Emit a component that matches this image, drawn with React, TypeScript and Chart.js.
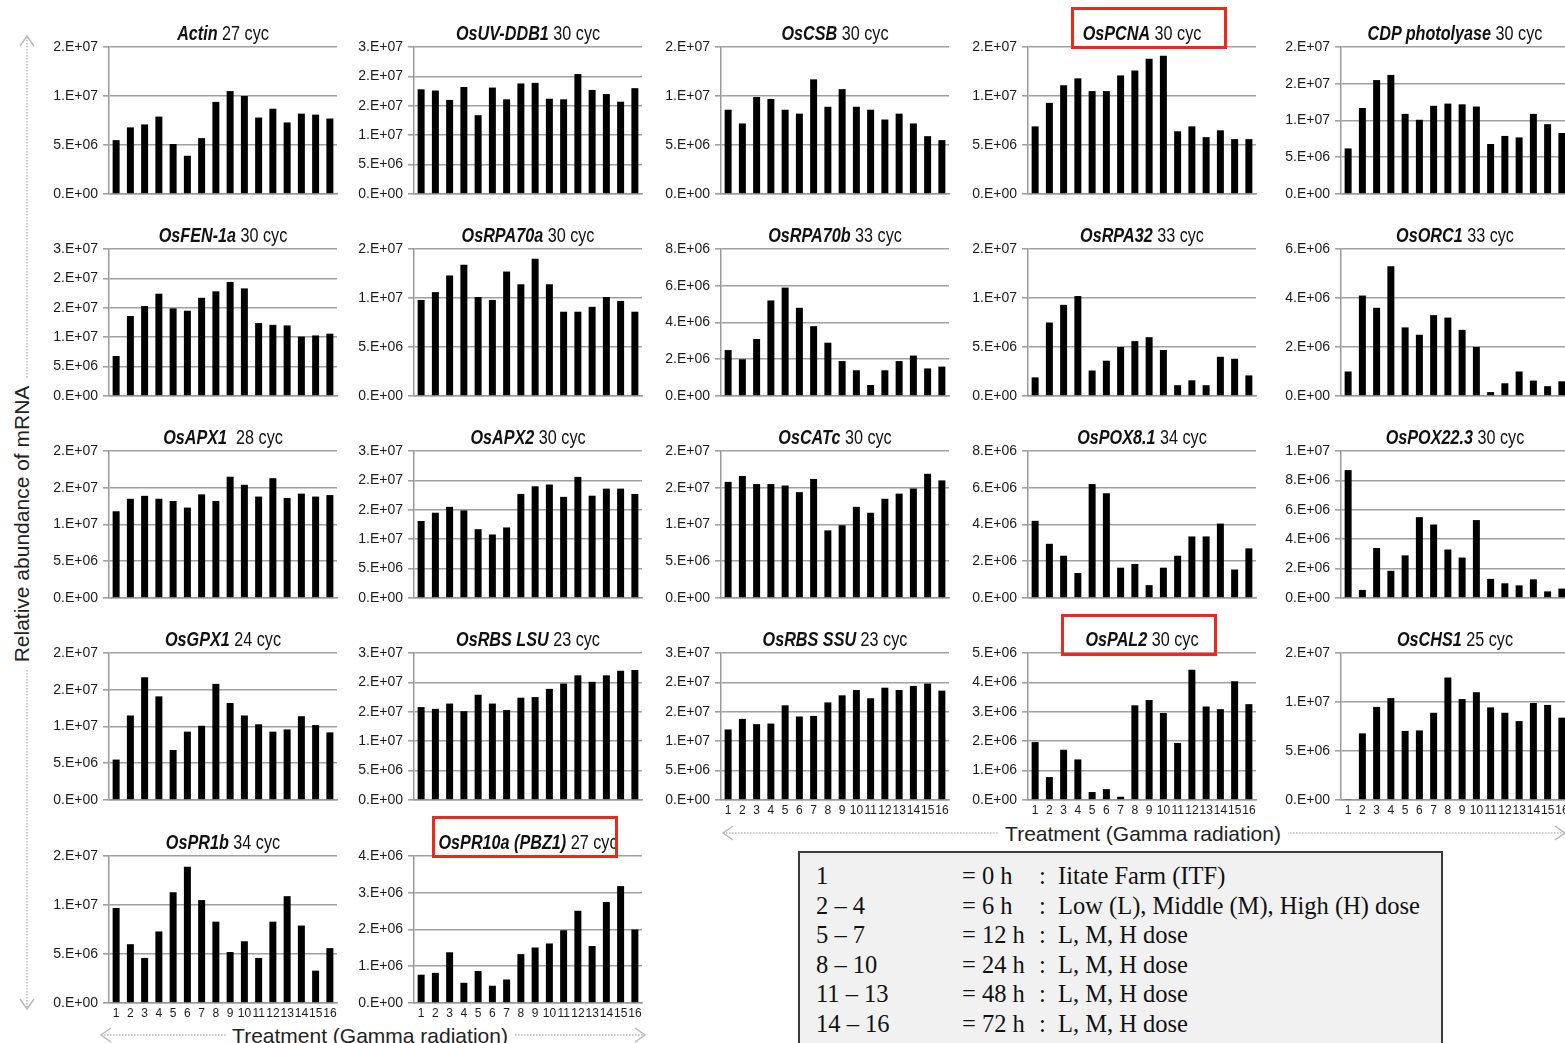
import React, { useEffect, useRef } from "react";
import { Chart, registerables } from "chart.js";

Chart.register(...registerables);

// ---------- data (values in millions of copies, i.e. ×1E+06) ----------
const treatments = ["1", "2", "3", "4", "5", "6", "7", "8", "9", "10", "11", "12", "13", "14", "15", "16"];

const actin = [5.5, 6.8, 7.1, 7.9, 5.1, 3.9, 5.7, 9.4, 10.5, 10.0, 7.8, 8.7, 7.3, 8.2, 8.1, 7.7];
const osUvDdb1 = [17.8, 17.6, 16.0, 18.2, 13.4, 18.1, 16.1, 18.8, 18.9, 16.2, 16.1, 20.4, 17.7, 17.0, 15.7, 18.0];
const osCsb = [8.6, 7.2, 9.9, 9.7, 8.6, 8.2, 11.7, 8.9, 10.7, 8.9, 8.6, 7.6, 8.2, 7.2, 5.9, 5.5];
const osPcna = [6.9, 9.3, 11.1, 11.8, 10.5, 10.5, 12.1, 12.6, 13.8, 14.1, 6.4, 6.9, 5.8, 6.5, 5.6, 5.6];
const cdpPhotolyase = [6.2, 11.7, 15.5, 16.2, 10.9, 10.1, 12.0, 12.3, 12.2, 11.9, 6.8, 7.9, 7.7, 10.9, 9.5, 8.3];
const osFen1a = [6.8, 13.6, 15.3, 17.4, 14.9, 14.5, 16.7, 17.8, 19.4, 18.3, 12.4, 12.1, 12.0, 10.1, 10.3, 10.6];
const osRpa70a = [9.8, 10.6, 12.3, 13.4, 10.1, 9.8, 12.7, 11.4, 14.0, 11.4, 8.6, 8.6, 9.1, 10.1, 9.7, 8.6];
const osRpa70b = [2.5, 2.0, 3.1, 5.2, 5.9, 4.8, 3.8, 2.9, 1.9, 1.4, 0.6, 1.4, 1.9, 2.2, 1.5, 1.6];
const osRpa32 = [1.9, 7.5, 9.3, 10.2, 2.6, 3.6, 5.0, 5.6, 6.0, 4.7, 1.1, 1.6, 1.1, 4.0, 3.8, 2.1];
const osOrc1 = [1.0, 4.1, 3.6, 5.3, 2.8, 2.5, 3.3, 3.2, 2.7, 2.0, 0.16, 0.52, 1.0, 0.63, 0.4, 0.6];
const osApx1 = [11.8, 13.5, 13.9, 13.5, 13.2, 12.3, 14.1, 13.2, 16.5, 15.4, 13.8, 16.3, 13.6, 14.2, 13.8, 14.0];
const osApx2 = [13.1, 14.5, 15.5, 14.9, 11.7, 10.8, 12.0, 17.7, 19.0, 19.3, 17.2, 20.6, 17.4, 18.6, 18.6, 17.7];
const osCatc = [15.8, 16.6, 15.5, 15.5, 15.3, 14.4, 16.2, 9.2, 9.9, 12.4, 11.6, 13.5, 14.2, 14.9, 16.9, 16.0];
const osPox81 = [4.2, 2.95, 2.3, 1.36, 6.2, 5.7, 1.65, 1.85, 0.7, 1.65, 2.3, 3.35, 3.35, 4.05, 1.55, 2.7];
const osPox223 = [8.7, 0.55, 3.4, 1.85, 2.9, 5.5, 5.0, 3.3, 2.75, 5.3, 1.3, 1.0, 0.86, 1.27, 0.45, 0.64];
const osGpx1 = [5.5, 11.5, 16.7, 14.1, 6.8, 9.3, 10.1, 15.8, 13.2, 11.5, 10.3, 9.3, 9.6, 11.4, 10.2, 9.2];
const osRbsLsu = [15.8, 15.5, 16.4, 15.1, 17.9, 16.4, 15.3, 17.4, 17.5, 18.9, 19.8, 21.2, 20.1, 21.2, 22.0, 22.1];
const osRbsSsu = [12.0, 13.8, 12.9, 13.0, 16.1, 14.2, 14.3, 16.6, 17.8, 18.7, 17.3, 19.1, 18.7, 19.4, 19.8, 18.6];
const osPal2 = [1.97, 0.78, 1.71, 1.38, 0.27, 0.37, 0.11, 3.22, 3.4, 2.96, 1.94, 4.43, 3.18, 3.09, 4.04, 3.26];
const osChs1 = [0.1, 6.8, 9.5, 10.4, 7.05, 7.1, 8.9, 12.5, 10.3, 11.0, 9.45, 8.9, 8.05, 9.9, 9.7, 8.4];
const osPr1b = [9.7, 6.0, 4.6, 7.3, 11.3, 13.9, 10.5, 8.3, 5.2, 6.3, 4.6, 8.3, 10.9, 7.9, 3.3, 5.6];
const osPr10a = [0.77, 0.82, 1.38, 0.55, 0.87, 0.47, 0.64, 1.33, 1.51, 1.62, 1.98, 2.51, 1.55, 2.75, 3.18, 2.0];

// axis maxima and steps (millions)
const axisMax = [15, 25, 15, 15, 20, 25, 15, 8, 15, 6, 20, 25, 20, 8, 10, 20, 25, 25, 5, 15, 15, 4];
const axisStep = [5, 5, 5, 5, 5, 5, 5, 2, 5, 2, 5, 5, 5, 2, 2, 5, 5, 5, 1, 5, 5, 1];

const geneNames = [
  "Actin", "OsUV-DDB1", "OsCSB", "OsPCNA", "CDP photolyase",
  "OsFEN-1a", "OsRPA70a", "OsRPA70b", "OsRPA32", "OsORC1",
  "OsAPX1", "OsAPX2", "OsCATc", "OsPOX8.1", "OsPOX22.3",
  "OsGPX1", "OsRBS LSU", "OsRBS SSU", "OsPAL2", "OsCHS1",
  "OsPR1b", "OsPR10a (PBZ1)",
];
const cycleLabels = [
  " 27 cyc", " 30 cyc", " 30 cyc", " 30 cyc", " 30 cyc",
  " 30 cyc", " 30 cyc", " 33 cyc", " 33 cyc", " 33 cyc",
  "  28 cyc", " 30 cyc", " 30 cyc", " 34 cyc", " 30 cyc",
  " 24 cyc", " 23 cyc", " 23 cyc", " 30 cyc", " 25 cyc",
  " 34 cyc", " 27 cyc",
];
const seriesList = [
  actin, osUvDdb1, osCsb, osPcna, cdpPhotolyase,
  osFen1a, osRpa70a, osRpa70b, osRpa32, osOrc1,
  osApx1, osApx2, osCatc, osPox81, osPox223,
  osGpx1, osRbsLsu, osRbsSsu, osPal2, osChs1,
  osPr1b, osPr10a,
];

const legendRanges = ["1", "2 – 4", "5 – 7", "8 – 10", "11 – 13", "14 – 16"];
const legendTimes = ["= 0 h", "= 6 h", "= 12 h", "= 24 h", "= 48 h", "= 72 h"];
const legendDoses = [
  "Iitate Farm (ITF)",
  "Low (L), Middle (M), High (H) dose",
  "L, M, H dose",
  "L, M, H dose",
  "L, M, H dose",
  "L, M, H dose",
];

const yAxisTitle = "Relative abundance of mRNA";
const xAxisTitle = "Treatment (Gamma radiation)";

// ---------- layout ----------
const PLOT_LEFTS = [109, 414, 721, 1028, 1341];
const PLOT_TOPS = [47, 249, 451, 653, 856];
const PLOT_W = 228;
const PLOT_H = 147;
const Y_AXIS_W = 62;
const PAD_TOP = 10;
const PAD_RIGHT = 4;

const SANS = '"Liberation Sans", Arial, sans-serif';
const SERIF = '"Liberation Serif", "Times New Roman", serif';

function excelSci(v: number): string {
  const val = v * 1e6;
  if (val === 0) return "0.E+00";
  const s = val.toExponential(0);
  const [m, e] = s.split("e");
  const ex = parseInt(e, 10);
  return m + ".E" + (ex < 0 ? "-" : "+") + String(Math.abs(ex)).padStart(2, "0");
}

function Panel({ index }: { index: number }) {
  const ref = useRef<HTMLCanvasElement | null>(null);
  const row = Math.floor(index / 5);
  const col = index % 5;
  const showX = row === 4 || (row === 3 && col >= 2);
  const xH = showX ? 22 : 10;
  const plotLeft = PLOT_LEFTS[col];
  const plotTop = PLOT_TOPS[row];
  const w = Y_AXIS_W + PLOT_W + PAD_RIGHT;
  const h = PAD_TOP + PLOT_H + xH;

  useEffect(() => {
    const chart = new Chart(ref.current as HTMLCanvasElement, {
      type: "bar",
      data: {
        labels: treatments,
        datasets: [
          {
            data: seriesList[index],
            backgroundColor: "#000000",
            borderWidth: 0,
            categoryPercentage: 1,
            barPercentage: 0.49,
          },
        ],
      },
      options: {
        animation: false,
        responsive: false,
        devicePixelRatio: 1,
        layout: { padding: { top: PAD_TOP, right: PAD_RIGHT, left: 0, bottom: 0 } },
        plugins: { legend: { display: false }, title: { display: false }, tooltip: { enabled: false } },
        scales: {
          x: {
            grid: { display: false, drawTicks: false },
            border: { display: true, color: "#9a9a9a", width: 1.5 },
            ticks: {
              display: showX,
              autoSkip: false,
              maxRotation: 0,
              minRotation: 0,
              padding: 3,
              color: "#1a1a1a",
              font: { family: SANS, size: 12 },
            },
            afterFit: (s: any) => {
              s.height = xH;
              s.paddingLeft = 0;
              s.paddingRight = 0;
            },
          },
          y: {
            min: 0,
            max: axisMax[index],
            ticks: {
              stepSize: axisStep[index],
              callback: (v: any) => excelSci(Number(v)),
              color: "#1a1a1a",
              padding: 5,
              font: { family: SANS, size: 14 },
            },
            grid: { color: "#a0a0a0", lineWidth: 1.6, tickLength: 6, drawTicks: true },
            border: { display: true, color: "#999999", width: 1.5 },
            afterFit: (s: any) => {
              s.width = Y_AXIS_W;
              s.paddingTop = 0;
              s.paddingBottom = 0;
            },
          },
        },
      },
    } as any);
    return () => chart.destroy();
  }, [index]);

  return (
    <canvas
      ref={ref}
      width={w}
      height={h}
      style={{
        position: "absolute",
        left: plotLeft - Y_AXIS_W,
        top: plotTop - PAD_TOP,
        width: w,
        height: h,
      }}
    />
  );
}

function Title({ index }: { index: number }) {
  const row = Math.floor(index / 5);
  const col = index % 5;
  return (
    <div
      style={{
        position: "absolute",
        left: PLOT_LEFTS[col] - 40,
        width: PLOT_W + 80,
        top: PLOT_TOPS[row] - 26,
        lineHeight: "24px",
        textAlign: "center",
        fontFamily: SANS,
        fontSize: 19.5,
        color: "#111",
        whiteSpace: "pre",
        transform: "scaleX(0.83)",
        transformOrigin: "50% 50%",
      }}
    >
      <b>
        <i>{geneNames[index]}</i>
      </b>
      {cycleLabels[index]}
    </div>
  );
}

const highlightBoxes = [
  { left: 1071, top: 7, width: 156, height: 42 },
  { left: 1061, top: 614, width: 156, height: 42 },
  { left: 432, top: 816, width: 186, height: 42 },
];

function Arrows() {
  const grey = "#b8b8b8";
  return (
    <svg width={1565} height={1043} style={{ position: "absolute", left: 0, top: 0 }}>
      <line x1={27} y1={37} x2={27} y2={1008} stroke={grey} strokeWidth={1.5} strokeDasharray="1.5 1.5" />
      <polyline points="20,46 27,36 34,46" fill="none" stroke={grey} strokeWidth={1.5} />
      <polyline points="20,999 27,1009 34,999" fill="none" stroke={grey} strokeWidth={1.5} />
      <rect x={10} y={378} width={22} height={292} fill="#fff" />
      <text
        transform="translate(21,524) rotate(-90)"
        textAnchor="middle"
        dominantBaseline="central"
        fontFamily={SANS}
        fontSize={21}
        fill="#222"
      >
        {yAxisTitle}
      </text>

      <line x1={101} y1={1035} x2={645} y2={1035} stroke={grey} strokeWidth={1.5} strokeDasharray="1.5 1.5" />
      <polyline points="111,1028 101,1035 111,1042" fill="none" stroke={grey} strokeWidth={1.5} />
      <polyline points="635,1028 645,1035 635,1042" fill="none" stroke={grey} strokeWidth={1.5} />
      <rect x={226} y={1022} width={288} height={22} fill="#fff" />
      <text x={370} y={1035} textAnchor="middle" dominantBaseline="central" fontFamily={SANS} fontSize={21} fill="#222">
        {xAxisTitle}
      </text>

      <line x1={723} y1={833} x2={1564} y2={833} stroke={grey} strokeWidth={1.5} strokeDasharray="1.5 1.5" />
      <polyline points="733,826 723,833 733,840" fill="none" stroke={grey} strokeWidth={1.5} />
      <polyline points="1555,826 1565,833 1555,840" fill="none" stroke={grey} strokeWidth={1.5} />
      <rect x={999} y={821} width={289} height={24} fill="#fff" />
      <text x={1143} y={833} textAnchor="middle" dominantBaseline="central" fontFamily={SANS} fontSize={21} fill="#222">
        {xAxisTitle}
      </text>
    </svg>
  );
}

function LegendBox() {
  const rowH = 29.6;
  return (
    <div
      style={{
        position: "absolute",
        left: 798,
        top: 851,
        width: 645,
        height: 210,
        boxSizing: "border-box",
        border: "2px solid #3a3a3a",
        background: "#f1f1f1",
        fontFamily: SERIF,
        fontSize: 24.5,
        color: "#111",
      }}
    >
      {legendRanges.map((r, i) => {
        const top = 8 + i * rowH;
        return (
          <React.Fragment key={i}>
            <div style={{ position: "absolute", left: 16, top, lineHeight: "30px", whiteSpace: "pre" }}>{r}</div>
            <div style={{ position: "absolute", left: 162, top, lineHeight: "30px", whiteSpace: "pre" }}>{legendTimes[i]}</div>
            <div style={{ position: "absolute", left: 239, top, lineHeight: "30px", whiteSpace: "pre" }}>:</div>
            <div style={{ position: "absolute", left: 258, top, lineHeight: "30px", whiteSpace: "pre" }}>{legendDoses[i]}</div>
          </React.Fragment>
        );
      })}
    </div>
  );
}

export default function App() {
  return (
    <div
      style={{
        position: "absolute",
        left: 0,
        top: 0,
        width: 1565,
        height: 1043,
        overflow: "hidden",
        background: "#fff",
      }}
    >
      <Arrows />
      {seriesList.map((_, i) => (
        <Panel key={"p" + i} index={i} />
      ))}
      {seriesList.map((_, i) => (
        <Title key={"t" + i} index={i} />
      ))}
      {highlightBoxes.map((b, i) => (
        <div
          key={"h" + i}
          style={{
            position: "absolute",
            left: b.left,
            top: b.top,
            width: b.width,
            height: b.height,
            boxSizing: "border-box",
            border: "3px solid #ec2a1c",
          }}
        />
      ))}
      <LegendBox />
    </div>
  );
}
